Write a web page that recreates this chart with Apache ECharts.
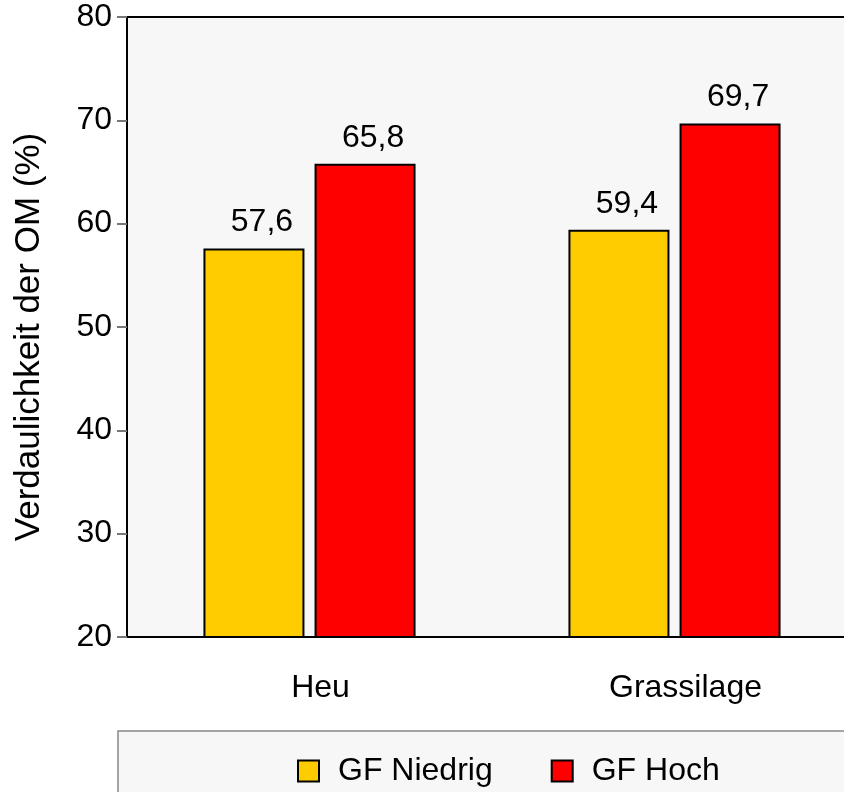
<!DOCTYPE html>
<html>
<head>
<meta charset="utf-8">
<script src="https://cdn.jsdelivr.net/npm/echarts@6/dist/echarts.min.js"></script>
<style>html,body{margin:0;padding:0;background:#fff}#c{width:844px;height:792px}</style>
</head>
<body>
<div id="c"></div>
<script>
const categories = ['Heu', 'Grassilage'];
const seriesNames = ['GF Niedrig', 'GF Hoch'];
const gfNiedrig = [57.6, 59.4];
const gfHoch = [65.8, 69.7];
const yTicks = [20, 30, 40, 50, 60, 70, 80];

const FONT = 'Liberation Sans, Arial, sans-serif';
const FS = 32;
const chart = echarts.init(document.getElementById('c'));
const lbl = {
  show: true, position: 'top', distance: 10, offset: [8, 0],
  fontFamily: FONT, fontSize: FS, color: '#000',
  formatter: p => String(p.value).replace('.', ',')
};
chart.setOption({
  animation: false,
  grid: {
    left: 127, top: 17, height: 620, width: 730,
    outerBoundsMode: 'none', containLabel: false,
    show: true, backgroundColor: '#f7f7f7', borderColor: '#000', borderWidth: 2
  },
  graphic: [{
    type: 'rect', z: -1,
    shape: { x: 118, y: 731, width: 800, height: 120 },
    style: { fill: '#f7f7f7', stroke: '#888', lineWidth: 1.5 }
  }],
  legend: {
    data: seriesNames, left: 292, top: 750, icon: 'rect',
    itemWidth: 21, itemHeight: 21, itemGap: 58,
    textStyle: { fontFamily: FONT, fontSize: FS, color: '#000', padding: [0, 0, 0, 14] }
  },
  xAxis: {
    type: 'category', data: categories,
    axisLine: { lineStyle: { color: '#000', width: 2 } },
    axisTick: { length: 12, lineStyle: { color: '#777', width: 2 } },
    axisLabel: { margin: 35, fontFamily: FONT, fontSize: FS, color: '#000', padding: [0, 0, 0, 22] }
  },
  yAxis: {
    type: 'value', min: yTicks[0], max: yTicks[yTicks.length - 1], interval: 10,
    name: 'Verdaulichkeit der OM (%)', nameLocation: 'middle', nameGap: 80,
    nameTextStyle: { fontFamily: FONT, fontSize: 35, color: '#000', padding: [0, 20, 0, 0] },
    axisLine: { show: true, lineStyle: { color: '#000', width: 2 } },
    axisTick: { show: true, length: 10, lineStyle: { color: '#777', width: 2 } },
    axisLabel: { margin: 15, fontFamily: FONT, fontSize: FS, color: '#000' },
    splitLine: { show: false }
  },
  series: [
    { name: seriesNames[0], type: 'bar', data: gfNiedrig, barWidth: 101, barGap: '10%',
      itemStyle: { color: '#ffcc00', borderColor: '#000', borderWidth: 2 }, label: lbl },
    { name: seriesNames[1], type: 'bar', data: gfHoch, barWidth: 101, barGap: '10%',
      itemStyle: { color: '#ff0000', borderColor: '#000', borderWidth: 2 }, label: lbl }
  ]
});
</script>
</body>
</html>
